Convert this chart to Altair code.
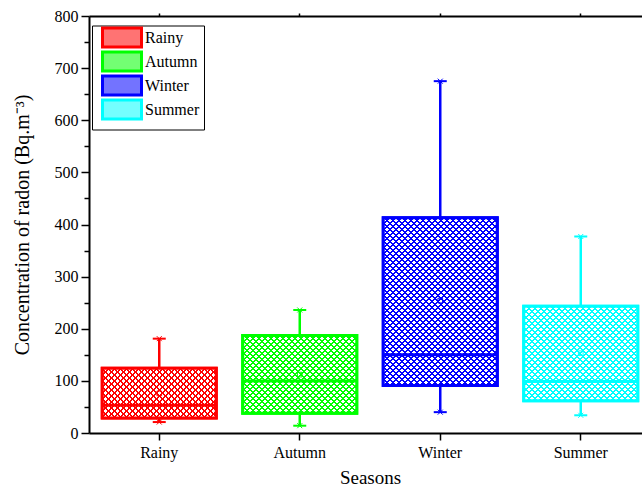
import altair as alt
import pandas as pd

seasons = ["Rainy", "Autumn", "Winter", "Summer"]
whisker_low = [21, 14, 40, 34]
q1 = [29, 38, 91, 62]
median = [53, 100, 150, 99]
q3 = [124, 187, 413, 243]
whisker_high = [181, 236, 675, 377]
means = [76, 112, 254, 153]
colors = ["#FF0000", "#00FF00", "#0000FF", "#00FFFF"]
y_major = list(range(0, 801, 100))
y_minor = list(range(50, 800, 100))

FONT = "Liberation Serif"
BOXW = 114
W, H = 553, 417
YMAX = 800
HATCH_P = 6       # hatch period, in (x + y) pixel units
HATCH_L = 2       # hatch line width, in (x + y) pixel units
GRAD_M = 512      # (x + y) pixel length mapped onto the gradient's [0, 1]
CLEAR = "rgba(255,255,255,0)"


def tint(hex_color, k=0.55):
    r, g, b = (int(hex_color[i:i + 2], 16) for i in (1, 3, 5))
    mix = lambda c: int(round(c * k + 255 * (1 - k)))
    return "#{:02X}{:02X}{:02X}".format(mix(r), mix(g), mix(b))


def hatch(color, w, h, direction):
    span = w + h
    stops = []
    k = 0
    while k * HATCH_P < span:
        a = k * HATCH_P / GRAD_M
        b = (k * HATCH_P + HATCH_L) / GRAD_M
        c = (k + 1) * HATCH_P / GRAD_M
        stops += [{"offset": a, "color": color}, {"offset": b, "color": color},
                  {"offset": b, "color": CLEAR}, {"offset": c, "color": CLEAR}]
        k += 1
    s = GRAD_M / (w * w + h * h)
    if direction == 0:
        return {"gradient": "linear", "x1": 0, "y1": 0, "x2": s * w, "y2": s * h, "stops": stops}
    return {"gradient": "linear", "x1": 0, "y1": 1, "x2": s * w, "y2": 1 - s * h, "stops": stops}


tints = [tint(c) for c in colors]

df = pd.DataFrame({"season": seasons, "lo": whisker_low, "q1": q1, "med": median,
                   "q3": q3, "hi": whisker_high, "mean": means, "col": colors})

xscale = alt.Scale(type="band", domain=seasons, range=[0, 562], paddingInner=0, paddingOuter=0)
yscale = alt.Scale(domain=[0, YMAX], nice=False)
cscale = alt.Scale(domain=seasons, range=colors)
fscale = alt.Scale(domain=seasons, range=tints)

x_plain = alt.X("season:N", scale=xscale, axis=None)
col_id = alt.Color("col:N", scale=None)

NB = "\u00a0"
legend_def = alt.Legend(
    title=None, orient="none", legendX=3, legendY=9.5, padding=4,
    strokeColor="black", fillColor="white",
    labelFont=FONT, labelFontSize=16, labelColor="black",
    labelExpr="datum.label + '" + NB * 6 + "'",
    symbolType="M-3.9,-1.9H3.9V1.9H-3.9Z", symbolSize=100, symbolStrokeWidth=3,
    symbolOffset=18, labelOffset=15, rowPadding=-11,
)

y_axis = alt.Axis(
    orient="left", values=y_major, tickSize=8,
    labelFont=FONT, labelFontSize=16, labelPadding=3, domainWidth=2, tickWidth=1.5,
    title="Concentration of radon (Bq.m⁻³)", titleFont=FONT, titleFontSize=20,
    titleFontWeight="normal", titlePadding=22, grid=False,
)

y_axis_minor = alt.Axis(
    orient="left", values=y_minor, tickSize=5, labels=False, domain=False,
    tickWidth=1.5, title=None, grid=False,
)

x_axis = alt.Axis(
    orient="bottom", labelFont=FONT, labelFontSize=16, labelAngle=0, labelPadding=4,
    tickSize=7, domainWidth=2, tickWidth=1.5,
    title="Seasons", titleFont=FONT, titleFontSize=19, titleFontWeight="normal",
    titlePadding=8, titleX=281, grid=False,
)

x_top = alt.Axis(orient="top", labels=False, title=None, tickSize=3, domainWidth=2,
                 tickWidth=1.5, grid=False)

base = alt.Chart(df)
y_q1 = alt.Y("q1:Q", scale=yscale, axis=None)

# tinted box (carries the legend), hidden under the hatch
box_legend = base.mark_bar(width=BOXW, strokeWidth=3, opacity=1).encode(
    x=x_plain, y=y_q1, y2="q3",
    fill=alt.Fill("season:N", scale=fscale, legend=legend_def),
    stroke=alt.Stroke("season:N", scale=cscale, legend=legend_def))

whisk = base.mark_rule(strokeWidth=2.5, opacity=1).encode(
    x=alt.X("season:N", scale=xscale, axis=x_axis),
    y=alt.Y("lo:Q", scale=yscale, axis=y_axis), y2="hi", color=col_id)

box_white = base.mark_bar(width=BOXW, fill="white", opacity=1).encode(
    x=x_plain, y=y_q1, y2="q3")

hatch_layers = []
for s, c, a, b in zip(seasons, colors, q1, q3):
    h_px = (b - a) * H / YMAX
    for d in (0, 1):
        hatch_layers.append(
            base.transform_filter(alt.datum.season == s)
            .mark_bar(width=BOXW, fill=hatch(c, BOXW, h_px, d), opacity=1)
            .encode(x=x_plain, y=y_q1, y2="q3"))

outline = base.mark_bar(width=BOXW, filled=False, strokeWidth=3, opacity=1).encode(
    x=x_plain, y=y_q1, y2="q3", color=col_id)

med = base.mark_tick(size=BOXW, thickness=3, opacity=1).encode(
    x=x_plain, y=alt.Y("med:Q", scale=yscale, axis=None), color=col_id)

mean_pt = base.mark_point(shape="square", size=22, filled=False, strokeWidth=1,
                          opacity=1).encode(
    x=x_plain, y=alt.Y("mean:Q", scale=yscale, axis=None), color=col_id)

cap_lo = base.mark_tick(size=13, thickness=2, opacity=1).encode(
    x=x_plain, y=alt.Y("lo:Q", scale=yscale, axis=None), color=col_id)
cap_hi = base.mark_tick(size=13, thickness=2, opacity=1).encode(
    x=x_plain, y=alt.Y("hi:Q", scale=yscale, axis=None), color=col_id)

xmark = "M-1,-1L1,1M-1,1L1,-1"
cross_lo = base.mark_point(shape=xmark, size=25, filled=False, strokeWidth=1,
                           opacity=1).encode(
    x=x_plain, y=alt.Y("lo:Q", scale=yscale, axis=None), color=col_id)
cross_hi = base.mark_point(shape=xmark, size=25, filled=False, strokeWidth=1,
                           opacity=1).encode(
    x=x_plain, y=alt.Y("hi:Q", scale=yscale, axis=None), color=col_id)

top = base.mark_point(opacity=0).encode(
    x=alt.X("season:N", scale=xscale, axis=x_top),
    y=alt.Y("med:Q", scale=yscale, axis=y_axis_minor))

chart = alt.layer(
    box_legend, whisk, box_white, *hatch_layers, outline, med, mean_pt,
    cap_lo, cap_hi, cross_lo, cross_hi, top
).resolve_axis(y="independent").properties(
    width=W, height=H, autosize="none",
    padding={"left": 89, "top": 16, "right": 0, "bottom": 54},
).configure(font=FONT).configure_view(stroke=None).configure_axis(
    domainColor="black", tickColor="black", labelColor="black", titleColor="black",
    labelFont=FONT, titleFont=FONT,
).configure_legend(labelFont=FONT)

chart.save("out.html", embed_options={"renderer": "svg", "actions": False})
